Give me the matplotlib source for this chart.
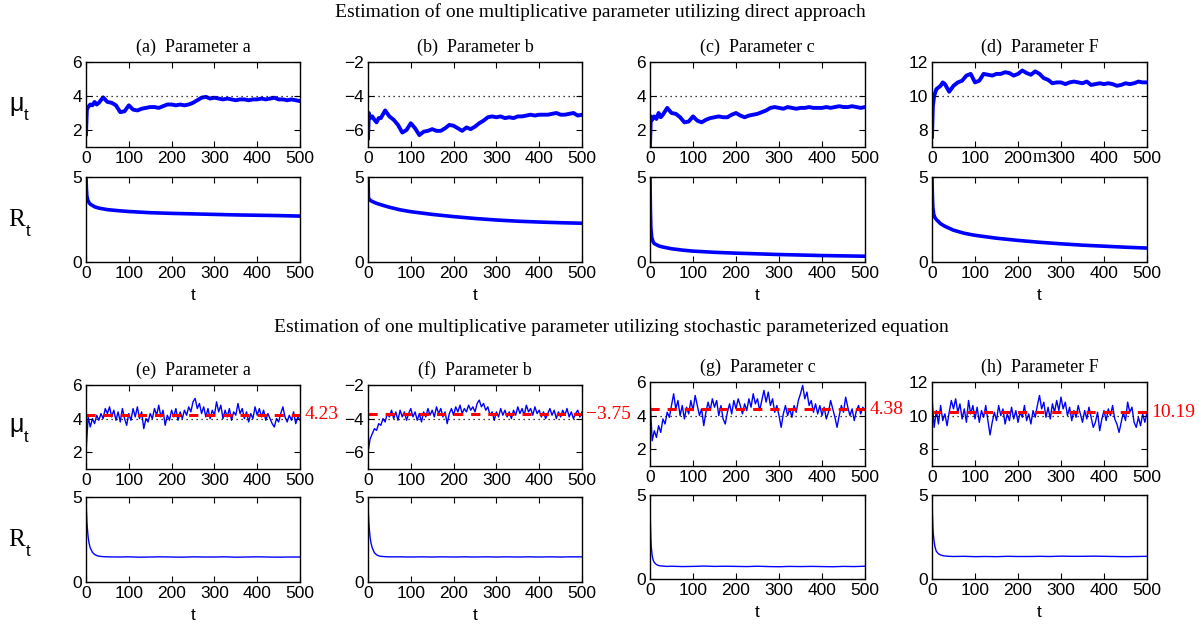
import matplotlib.pyplot as plt
import matplotlib.transforms as mtransforms

plt.rcParams['font.family'] = 'Liberation Sans'
SERIF = 'Liberation Serif'
BLUE = '#0000ff'

# ---- data ----
t_mu_top = [0, 2, 5, 10, 15, 20, 25, 30] + list(range(40, 501, 10))
mu_a = [1.75, 3.2, 3.35, 3.5, 3.45, 3.65, 3.5, 3.6,
        3.92, 3.65, 3.6, 3.45, 3.05, 3.1, 3.45, 3.2, 3.15, 3.25,
        3.3, 3.35, 3.35, 3.3, 3.4, 3.5, 3.5, 3.45, 3.5, 3.45,
        3.5, 3.6, 3.75, 3.9, 3.95, 3.85, 3.9, 3.85, 3.8, 3.85,
        3.8, 3.75, 3.8, 3.8, 3.75, 3.8, 3.8, 3.85, 3.8, 3.85,
        3.9, 3.8, 3.8, 3.75, 3.8, 3.75, 3.7]
mu_b = [-6.5, -5.0, -5.3, -5.2, -5.4, -5.55, -5.3, -5.3,
        -4.85, -5.2, -5.4, -5.7, -6.15, -6.0, -5.6, -5.9, -6.3, -6.1,
        -6.05, -5.95, -6.05, -6.05, -5.9, -5.7, -5.75, -5.9, -6.05, -5.85,
        -5.95, -5.8, -5.6, -5.45, -5.25, -5.2, -5.25, -5.2, -5.3, -5.25,
        -5.3, -5.2, -5.2, -5.15, -5.1, -5.15, -5.1, -5.1, -5.1, -5.05,
        -5.0, -5.1, -5.1, -5.05, -5.0, -5.15, -5.1]
mu_c = [1.1, 2.8, 2.6, 2.8, 2.65, 3.0, 2.75, 2.9,
        3.3, 3.0, 2.95, 2.75, 2.45, 2.5, 2.8, 2.55, 2.45, 2.6,
        2.7, 2.75, 2.8, 2.75, 2.75, 2.9, 3.0, 2.85, 2.75, 2.85,
        2.9, 2.95, 3.05, 3.15, 3.3, 3.35, 3.3, 3.25, 3.35, 3.3,
        3.25, 3.3, 3.3, 3.35, 3.3, 3.3, 3.3, 3.35, 3.3, 3.35,
        3.4, 3.35, 3.35, 3.4, 3.35, 3.3, 3.35]
mu_d = [7.6, 9.4, 10.0, 10.4, 10.5, 10.6, 10.8, 10.7,
        10.25, 10.6, 10.8, 10.9, 11.2, 11.3, 10.8, 10.9, 11.3, 11.25,
        11.2, 11.3, 11.3, 11.4, 11.35, 11.2, 11.3, 11.5, 11.35, 11.25,
        11.45, 11.3, 11.05, 10.95, 10.75, 10.8, 10.8, 10.7, 10.8, 10.85,
        10.8, 10.75, 10.85, 10.65, 10.7, 10.75, 10.7, 10.75, 10.7, 10.6,
        10.65, 10.75, 10.7, 10.75, 10.85, 10.8, 10.8]

t_r_top = [0, 1, 2, 4, 7, 10, 20, 30, 50, 75, 100, 150, 200, 250, 300, 350, 400, 450, 500]
r_a = [5.0, 4.3, 3.9, 3.65, 3.5, 3.4, 3.25, 3.17, 3.08, 3.02, 2.97, 2.9, 2.86, 2.83, 2.8, 2.77, 2.75, 2.73, 2.7]
r_b = [5.0, 3.8, 3.72, 3.66, 3.6, 3.56, 3.45, 3.37, 3.22, 3.07, 2.96, 2.8, 2.67, 2.56, 2.47, 2.4, 2.35, 2.31, 2.28]
r_c = [5.0, 3.0, 2.0, 1.45, 1.2, 1.08, 0.95, 0.88, 0.78, 0.7, 0.64, 0.57, 0.52, 0.48, 0.44, 0.41, 0.38, 0.36, 0.34]
r_d = [5.0, 3.8, 3.2, 2.8, 2.6, 2.5, 2.25, 2.1, 1.87, 1.69, 1.57, 1.4, 1.27, 1.16, 1.07, 0.99, 0.93, 0.87, 0.82]

t_mu_bot = list(range(0, 501, 5))
mu_e = [2.0, 4.1, 3.5, 4.0, 3.7, 4.2, 3.9, 4.3, 4.0, 4.6, 4.3, 4.7, 4.1, 4.5, 3.9, 4.4, 3.8, 4.6, 4.0, 3.6,
        4.3, 3.9, 4.6, 4.1, 4.7, 4.0, 4.4, 3.4, 4.0, 3.8, 4.3, 4.0, 4.6, 4.2, 4.8, 4.1, 4.5, 3.6, 4.2, 3.9,
        4.5, 4.1, 4.6, 3.9, 4.4, 4.0, 4.5, 4.2, 4.7, 4.4, 5.0, 5.2, 4.6, 4.9, 4.3, 4.7, 4.1, 4.6, 4.0, 4.5,
        4.2, 5.0, 4.4, 4.8, 4.0, 4.5, 4.1, 4.6, 3.9, 4.4, 4.2, 4.9, 4.3, 4.6, 4.0, 4.4, 3.8, 4.3, 4.0, 4.7,
        4.2, 4.6, 4.1, 4.5, 3.9, 4.3, 4.0, 3.7, 3.5, 4.0, 3.8, 4.3, 4.7, 4.1, 3.8, 4.2, 3.9, 4.4, 3.7, 4.1,
        3.9]
mu_f = [-6.0, -5.2, -4.9, -4.6, -4.7, -4.3, -4.4, -4.0, -4.2, -3.7, -3.9, -3.5, -4.0, -3.6, -4.1, -3.5, -3.9, -3.6, -4.1, -3.7,
        -3.4, -3.9, -3.6, -4.1, -3.7, -4.2, -3.6, -3.9, -3.4, -3.8, -3.5, -3.9, -3.3, -3.7, -3.4, -3.9, -3.6, -4.3, -3.7, -3.4,
        -3.8, -3.3, -3.6, -3.2, -3.7, -3.4, -3.6, -3.2, -3.5, -3.3, -3.6, -3.1, -2.9, -3.3, -3.1, -3.5, -3.3, -3.8, -3.6, -4.1,
        -3.6, -3.9, -3.4, -3.8, -3.5, -3.9, -3.6, -4.0, -3.5, -3.8, -3.3, -3.7, -3.4, -3.8, -3.2, -3.6, -3.4, -3.8, -3.3, -3.7,
        -3.5, -3.9, -3.6, -4.0, -3.7, -3.4, -3.8, -3.5, -4.0, -3.6, -3.9, -3.5, -3.8, -3.4, -3.9, -3.6, -4.0, -3.7, -3.5, -3.9,
        -3.6]
mu_g = [5.1, 2.5, 3.1, 2.7, 3.4, 3.0, 3.8, 3.5, 4.2, 3.9, 4.6, 5.3, 4.4, 4.9, 4.0, 4.6, 3.8, 4.5, 4.1, 4.9,
        4.3, 5.2, 4.6, 4.0, 4.4, 3.4, 4.2, 4.8, 4.3, 5.0, 4.5, 4.9, 4.0, 4.6, 3.8, 3.5, 4.2, 4.7, 4.1, 4.9,
        4.4, 5.0, 4.6, 4.1, 4.7, 4.3, 5.0, 4.5, 5.3, 4.7, 5.0, 4.3, 4.9, 5.5, 4.8, 5.4, 4.6, 5.0, 4.2, 4.6,
        4.0, 3.3, 4.1, 4.6, 4.0, 4.4, 3.9, 4.6, 4.2, 4.9, 5.3, 5.8, 5.0, 5.4, 4.6, 4.9, 4.2, 4.7, 4.1, 4.6,
        4.0, 4.5, 3.8, 4.2, 4.9, 4.4, 3.9, 3.3, 4.0, 4.6, 4.2, 5.1, 4.5, 4.0, 4.4, 3.7, 4.3, 4.6, 4.1, 4.5,
        4.3]
mu_h = [11.1, 9.3, 10.3, 9.5, 10.6, 9.7, 10.1, 9.4, 10.2, 10.9, 10.4, 11.0, 10.2, 10.7, 9.8, 10.4, 9.6, 10.9, 10.1, 10.6,
        9.8, 10.5, 9.6, 10.3, 9.9, 10.6, 9.7, 8.85, 9.6, 10.2, 9.7, 10.6, 10.0, 10.4, 9.5, 10.1, 9.7, 10.5, 9.8, 10.3,
        9.6, 10.2, 9.9, 10.6, 9.7, 10.1, 9.5, 10.3, 9.9, 10.6, 11.2, 10.4, 10.8, 9.9, 10.5, 9.8, 10.7, 10.2, 10.9, 10.3,
        11.1, 10.4, 10.8, 10.0, 10.5, 9.7, 10.3, 9.9, 10.6, 10.1, 9.6, 10.3, 9.8, 10.5, 9.9, 9.3, 9.6, 10.2, 9.1, 9.8,
        10.3, 9.7, 10.4, 10.0, 10.6, 9.8, 9.5, 9.0, 9.6, 10.2, 9.7, 10.8, 10.2, 10.5, 9.6, 9.3, 9.9, 9.4, 10.1, 9.6,
        10.2]

t_r_bot = [0, 1, 2, 3, 5, 7, 10, 15, 20, 25, 30, 40, 50, 75, 100, 125, 150, 175, 200,
           225, 250, 275, 300, 325, 350, 375, 400, 425, 450, 475, 500]
r_e = [5.0, 4.2, 3.6, 3.2, 2.65, 2.3, 2.0, 1.75, 1.62, 1.56, 1.52, 1.49, 1.48, 1.47, 1.48, 1.46,
       1.47, 1.48, 1.47, 1.46, 1.48, 1.47, 1.47, 1.48, 1.46, 1.47, 1.48, 1.47, 1.46, 1.47, 1.47]
r_f = [5.0, 4.0, 3.5, 3.15, 2.6, 2.3, 2.0, 1.72, 1.6, 1.54, 1.51, 1.49, 1.48, 1.48, 1.47, 1.48,
       1.47, 1.48, 1.47, 1.48, 1.47, 1.48, 1.47, 1.48, 1.47, 1.48, 1.47, 1.48, 1.47, 1.48, 1.48]
r_g = [5.0, 3.3, 2.4, 1.9, 1.4, 1.15, 0.98, 0.86, 0.8, 0.78, 0.77, 0.75, 0.76, 0.74, 0.75, 0.77,
       0.75, 0.76, 0.75, 0.74, 0.76, 0.74, 0.73, 0.75, 0.74, 0.75, 0.74, 0.73, 0.75, 0.74, 0.76]
r_h = [5.0, 3.9, 3.1, 2.7, 2.2, 1.9, 1.65, 1.5, 1.43, 1.39, 1.37, 1.35, 1.34, 1.35, 1.33, 1.34,
       1.33, 1.35, 1.34, 1.34, 1.35, 1.34, 1.36, 1.35, 1.35, 1.36, 1.35, 1.34, 1.33, 1.34, 1.35]

panel_titles = ['(a)  Parameter a', '(b)  Parameter b', '(c)  Parameter c', '(d)  Parameter F',
                '(e)  Parameter a', '(f)  Parameter b', '(g)  Parameter c', '(h)  Parameter F']
true_vals = [4, -4, 4, 10]
est_vals = [4.23, -3.75, 4.38, 10.19]
est_labels = ['4.23', '\u22123.75', '4.38', '10.19']
mu_ylims = [(1, 6), (-7, -2), (1, 6), (7, 12)]
mu_yticks = [[2, 4, 6], [-6, -4, -2], [2, 4, 6], [8, 10, 12]]

W, H = 1199, 625
fig = plt.figure(figsize=(W / 100, H / 100), dpi=100)


def box(x0, y0, x1, y1):
    return fig.add_axes([x0 / W, 1 - y1 / H, (x1 - x0) / W, (y1 - y0) / H])


def style(ax):
    ax.set_xlim(0, 500)
    ax.set_xticks(range(0, 501, 100))
    ax.tick_params(direction='in', top=True, right=True, length=4, width=0.8,
                   labelsize=12.5, pad=3)
    for s in ax.spines.values():
        s.set_linewidth(1.0)


col_x = [(86, 300), (368, 582), (650, 865), (932, 1147)]
rows_top = [(62, 147), (177, 262)]
rows_bot = [[(385, 469), (497, 582)], [(385, 469), (497, 582)],
            [(382, 466), (495, 579)], [(382, 466), (495, 579)]]

mu_top = [mu_a, mu_b, mu_c, mu_d]
r_top = [r_a, r_b, r_c, r_d]
mu_bot = [mu_e, mu_f, mu_g, mu_h]
r_bot = [r_e, r_f, r_g, r_h]

for i in range(4):
    x0, x1 = col_x[i]
    # direct approach
    ax = box(x0, rows_top[0][0], x1, rows_top[0][1])
    ax.plot(t_mu_top, mu_top[i], color=BLUE, lw=2.8)
    ax.axhline(true_vals[i], color='k', ls=(0, (1, 3)), lw=0.9)
    ax.set_ylim(*mu_ylims[i])
    ax.set_yticks(mu_yticks[i])
    style(ax)
    ax.set_title(panel_titles[i], family=SERIF, fontsize=13, pad=7)

    ax = box(x0, rows_top[1][0], x1, rows_top[1][1])
    ax.plot(t_r_top, r_top[i], color=BLUE, lw=2.6)
    ax.set_ylim(0, 5)
    ax.set_yticks([0, 5])
    style(ax)
    ax.set_xlabel('t', fontsize=12.5, labelpad=5)

    # stochastic parameterized equation
    (m0, m1), (s0, s1) = rows_bot[i]
    ax = box(x0, m0, x1, m1)
    ax.plot(t_mu_bot, mu_bot[i], color=BLUE, lw=1.0)
    ax.axhline(true_vals[i], color='k', ls=(0, (1, 3)), lw=0.9)
    ax.axhline(est_vals[i], color='red', ls=(0, (3, 2.6)), lw=2.2)
    ax.set_ylim(*mu_ylims[i])
    ax.set_yticks(mu_yticks[i])
    style(ax)
    ax.set_title(panel_titles[i + 4], family=SERIF, fontsize=13, pad=7)
    tr = mtransforms.blended_transform_factory(ax.transAxes, ax.transData)
    ax.text(1.02, est_vals[i], est_labels[i], transform=tr, color='red',
            family=SERIF, fontsize=14, ha='left', va='center', clip_on=False)

    ax = box(x0, s0, x1, s1)
    ax.plot(t_r_bot, r_bot[i], color=BLUE, lw=1.0)
    ax.set_ylim(0, 5)
    ax.set_yticks([0, 5])
    style(ax)
    ax.set_xlabel('t', fontsize=12.5, labelpad=5)

# row labels
for yc in (104, 425):
    fig.text(17 / W, 1 - yc / H, '\u03bc', fontsize=18, ha='center', va='center')
    fig.text(26 / W, 1 - (yc + 12) / H, 't', fontsize=12, ha='center', va='center')
for yc in (220, 540):
    fig.text(17 / W, 1 - yc / H, 'R', family=SERIF, fontsize=18, ha='center', va='center')
    fig.text(28 / W, 1 - (yc + 12) / H, 't', fontsize=12, ha='center', va='center')

fig.text(600 / W, 1 - 12 / H, 'Estimation of one multiplicative parameter utilizing direct approach',
         family=SERIF, fontsize=14, ha='center', va='center')
fig.text(611 / W, 1 - 327 / H, 'Estimation of one multiplicative parameter utilizing stochastic parameterized equation',
         family=SERIF, fontsize=14, ha='center', va='center')
# stray glyph in the original figure
fig.text(1040 / W, 1 - 157 / H, 'm', family=SERIF, fontsize=13, ha='center', va='center')

fig.savefig('out.png', dpi=100)
